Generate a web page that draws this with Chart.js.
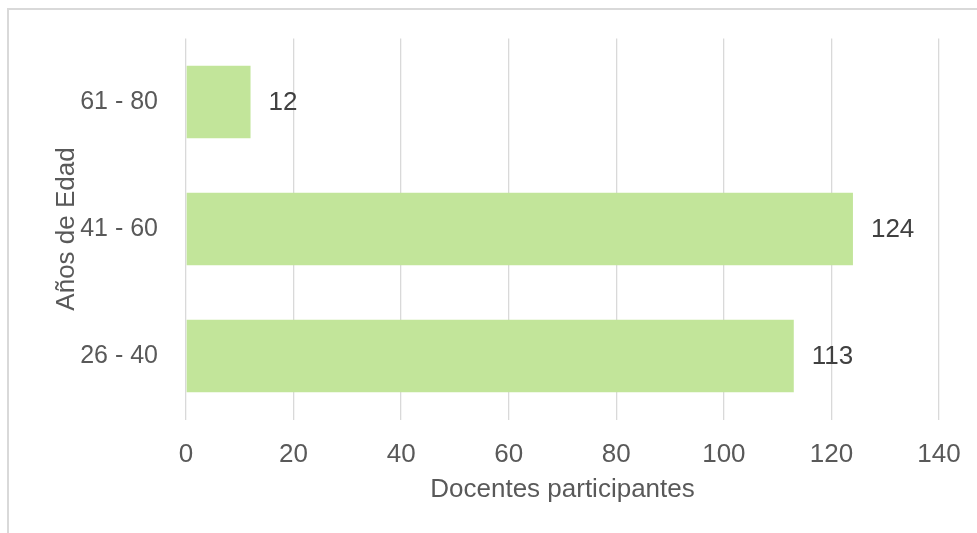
<!DOCTYPE html>
<html>
<head>
<meta charset="utf-8">
<script src="https://cdn.jsdelivr.net/npm/chart.js@4/dist/chart.umd.min.js"></script>
<style>
  body { margin: 0; background: #fff; overflow: hidden; }
  #frame {
    position: absolute; left: 7px; top: 8px;
    width: 1100px; height: 700px;
    border: 2px solid #d9d9d9;
  }
  #chart { position: absolute; left: 0; top: 0; }
</style>
</head>
<body>
<div id="frame"></div>
<canvas id="chart" width="977" height="533"></canvas>
<script>
// age groups, bottom to top as in the picture
const categories = ["26 - 40", "41 - 60", "61 - 80"]
const docentes = [113, 124, 12]
const xTicks = [0, 20, 40, 60, 80, 100, 120, 140]

const FONT = "'Liberation Sans', Arial, sans-serif"

// value labels at the end of each bar
const barLabels = {
    id: "barLabels",
    afterDatasetsDraw(chart) {
        const ctx = chart.ctx
        const meta = chart.getDatasetMeta(0)
        ctx.save()
        ctx.font = "26px " + FONT
        ctx.fillStyle = "#404040"
        ctx.textAlign = "left"
        ctx.textBaseline = "middle"
        meta.data.forEach((bar, i) => {
            ctx.fillText(String(docentes[i]), bar.x + 18, bar.y + 1)
        })
        ctx.restore()
    },
}

new Chart(document.getElementById("chart"), {
    type: "bar",
    data: {
        labels: categories,
        datasets: [
            {
                data: docentes,
                backgroundColor: "rgb(194, 229, 154)",
                borderWidth: 0,
                categoryPercentage: 1,
                barPercentage: 0.57,
            },
        ],
    },
    options: {
        indexAxis: "y",
        responsive: false,
        animation: false,
        layout: {
            padding: { left: 0, right: 38, top: 38.5, bottom: 0 },
        },
        plugins: {
            legend: { display: false },
            tooltip: { enabled: false },
        },
        scales: {
            x: {
                min: 0,
                max: 140,
                afterBuildTicks: (axis) => {
                    axis.ticks = xTicks.map((v) => ({ value: v }))
                },
                grid: {
                    color: "#d9d9d9",
                    lineWidth: 1.3,
                    drawTicks: false,
                },
                border: { display: false },
                ticks: {
                    padding: 20,
                    color: "#595959",
                    font: { family: FONT, size: 26 },
                },
                title: {
                    display: true,
                    text: "Docentes participantes",
                    color: "#595959",
                    font: { family: FONT, size: 26 },
                    padding: { top: 0, bottom: 28 },
                },
                afterFit: (axis) => {
                    axis.height = 113.5
                    axis.paddingLeft = 0
                    axis.paddingRight = 0
                },
            },
            y: {
                reverse: true,
                grid: { display: false, drawTicks: false },
                border: { display: false },
                ticks: {
                    padding: 28,
                    color: "#595959",
                    font: { family: FONT, size: 25 },
                },
                title: {
                    display: true,
                    text: "Años de Edad",
                    color: "#595959",
                    font: { family: FONT, size: 26 },
                    padding: { top: 51, bottom: 0 },
                },
                afterFit: (axis) => {
                    axis.width = 186
                    axis.paddingTop = 0
                    axis.paddingBottom = 0
                },
            },
        },
    },
    plugins: [barLabels],
})
</script>
</body>
</html>
